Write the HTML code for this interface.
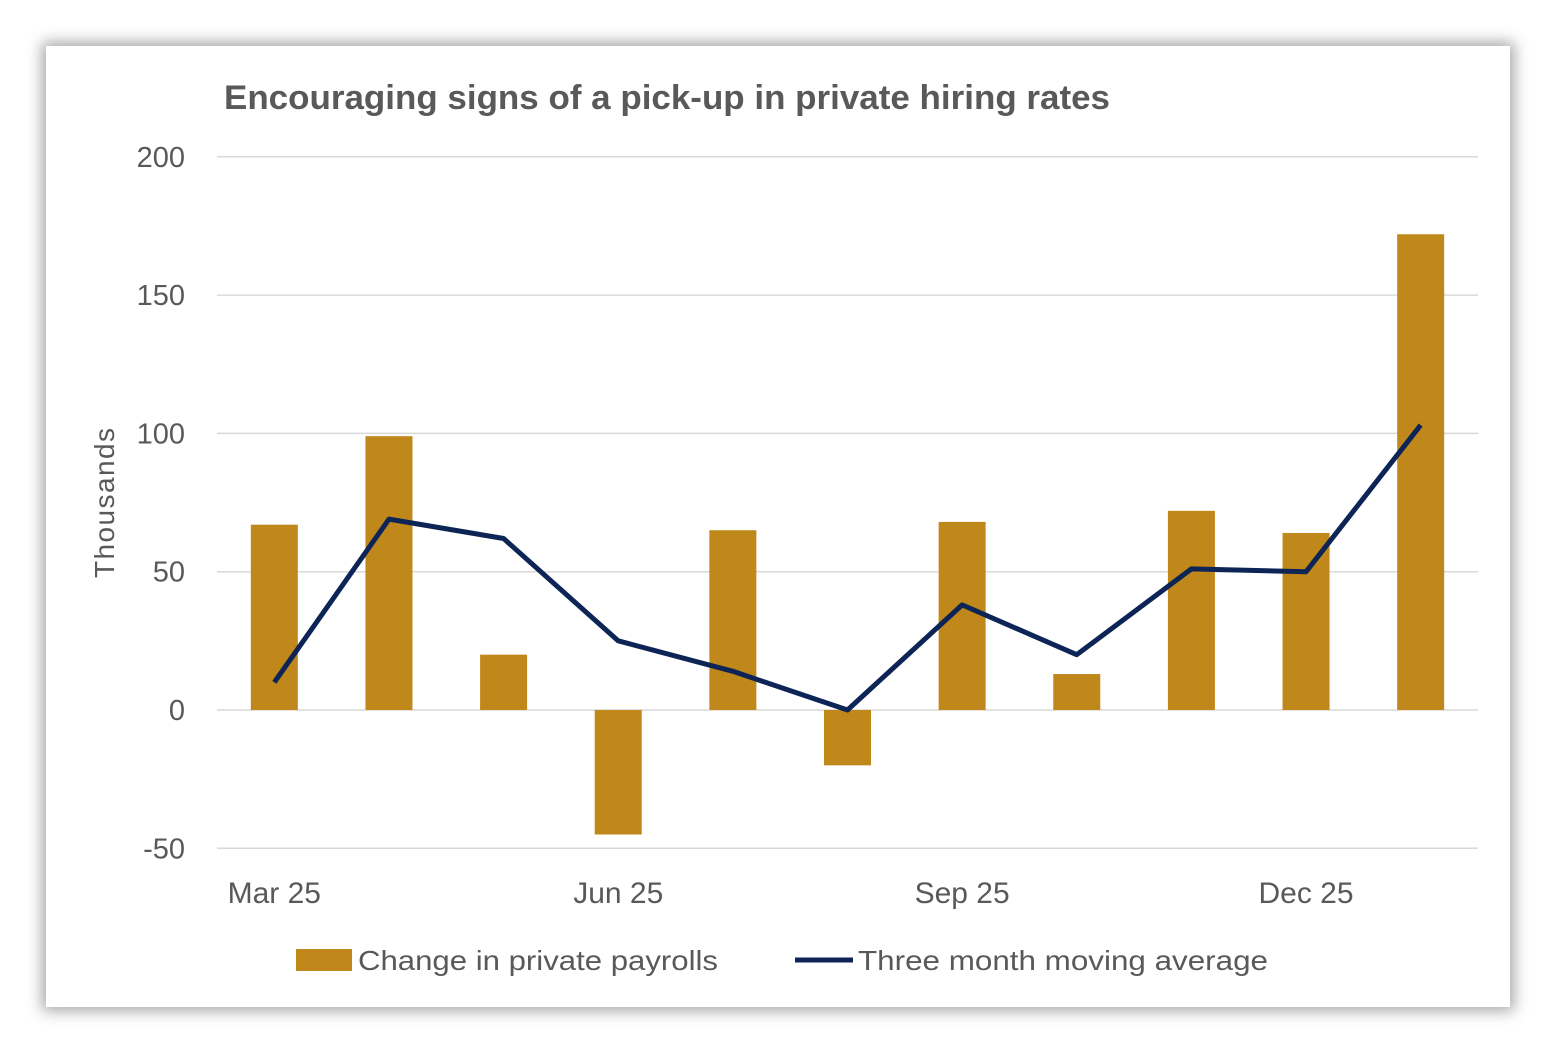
<!DOCTYPE html>
<html><head><meta charset="utf-8"><style>
html,body{margin:0;padding:0;background:#fff;}
body{width:1556px;height:1053px;position:relative;overflow:hidden;font-family:"Liberation Sans",sans-serif;}
#card{position:absolute;left:46px;top:46px;width:1464px;height:961px;background:#fff;box-shadow:0 0 14px 4px rgba(0,0,0,0.35);}
svg{position:absolute;left:0;top:0;}
</style></head><body>
<div id="card"></div>
<svg id="chart" width="1556" height="1053">
<text x="224" y="109" font-size="34" font-weight="bold" fill="#595959" textLength="886" lengthAdjust="spacingAndGlyphs">Encouraging signs of a pick-up in private hiring rates</text>
<text transform="translate(114,503) rotate(-90)" text-anchor="middle" font-size="28" fill="#595959" textLength="150">Thousands</text>
<g id="grid"></g><g id="bars"></g><g id="line"></g><g id="xlabels"></g>
<g>
<rect x="296" y="949" width="56" height="22" fill="#C0881A"/>
<text x="358" y="970" font-size="28" fill="#595959" textLength="360" lengthAdjust="spacingAndGlyphs">Change in private payrolls</text>
<line x1="795" y1="960" x2="853" y2="960" stroke="#0D2456" stroke-width="5"/>
<text x="858" y="970" font-size="28" fill="#595959" textLength="410" lengthAdjust="spacingAndGlyphs">Three month moving average</text>
</g>
</svg>
<script>
const categories=["Mar 25","Apr 25","May 25","Jun 25","Jul 25","Aug 25","Sep 25","Oct 25","Nov 25","Dec 25","Jan 26"];
const payrolls=[67,99,20,-45,65,-20,68,13,72,64,172];
const movingAvg=[10,69,62,25,14,0,38,20,51,50,103];
const yTicks=[200,150,100,50,0,-50];
const xTickLabels=["Mar 25","","","Jun 25","","","Sep 25","","","Dec 25",""];
const NS="http://www.w3.org/2000/svg";
const L=217,R=1478;
function y(v){return 710-v*2.766;}
const step=(R-L)/categories.length;
function x(i){return L+step*(i+0.5);}
function mk(t,a,p){const e=document.createElementNS(NS,t);for(const k in a)e.setAttribute(k,a[k]);p.appendChild(e);return e;}
const grid=document.getElementById('grid');
yTicks.forEach(t=>{
 const ln=mk('line',{x1:L,x2:R,y1:y(t),y2:y(t),stroke:'#d9d9d9','stroke-width':1.5},grid);
 
 
 const tx=mk('text',{x:185,y:y(t)+10,'text-anchor':'end','font-size':29,fill:'#595959'},grid);
 tx.textContent=t;
 
 
});
const bars=document.getElementById('bars');
payrolls.forEach((v,i)=>{
 const r=mk('rect',{x:x(i)-23.5,y:Math.min(y(v),y(0)),width:47,height:Math.abs(y(v)-y(0)),fill:'#C0881A'},bars);
 
 
});
const lg=document.getElementById('line');
const pl=mk('polyline',{points:movingAvg.map((v,i)=>x(i)+','+y(v)).join(' '),fill:'none',stroke:'#0D2456','stroke-width':5,'stroke-linejoin':'round'},lg);


const xl=document.getElementById('xlabels');
xTickLabels.forEach((s,i)=>{
 if(!s)return;
 const t=mk('text',{x:x(i),y:903,'text-anchor':'middle','font-size':30,fill:'#595959'},xl);
 t.textContent=s;
 
 
});
</script>
</body></html>
